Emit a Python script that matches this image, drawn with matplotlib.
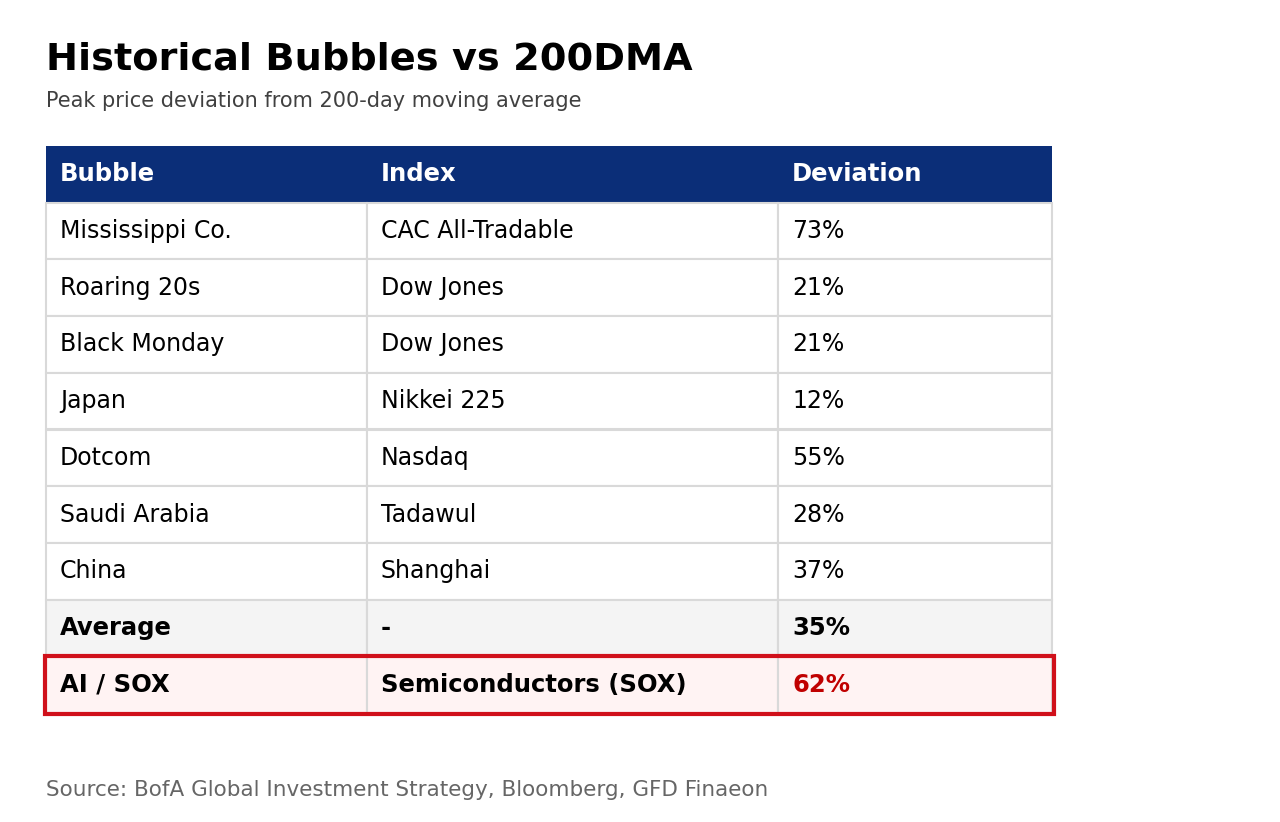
import matplotlib
matplotlib.use("Agg")
import matplotlib.pyplot as plt
from matplotlib.patches import Rectangle

plt.rcParams["font.family"] = ["DejaVu Sans"]

# data
HEADERS = ["Bubble", "Index", "Deviation"]
BUBBLES = ["Mississippi Co.", "Roaring 20s", "Black Monday", "Japan", "Dotcom",
           "Saudi Arabia", "China"]
INDICES = ["CAC All-Tradable", "Dow Jones", "Dow Jones", "Nikkei 225", "Nasdaq",
           "Tadawul", "Shanghai"]
DEVIATIONS = [73, 21, 21, 12, 55, 28, 37]
AVERAGE_ROW = ["Average", "-", "35%"]
HIGHLIGHT_ROW = ["AI / SOX", "Semiconductors (SOX)", "62%"]

NAVY = "#0b2e78"
GRID = "#d9d9d9"
RED = "#d0101a"
RED_TEXT = "#c00000"

W, H = 1280, 822
fig = plt.figure(figsize=(W / 100, H / 100), dpi=100)
ax = fig.add_axes([0, 0, 1, 1])
ax.set_xlim(0, W)
ax.set_ylim(H, 0)
ax.axis("off")

# layout in pixels
x0 = 46
col_w = [321, 411, 274]
col_x = [x0, x0 + col_w[0], x0 + col_w[0] + col_w[1]]
tbl_w = sum(col_w)
y0 = 146
row_h = 56.7
pad = 14
CELL_FS = 17
BOLD_FS = 17.5

fig.text(x0 / W, 1 - 59 / H, "Historical Bubbles vs 200DMA", fontsize=27.5,
         fontweight="bold", va="center", ha="left", color="black")
fig.text(x0 / W, 1 - 101 / H, "Peak price deviation from 200-day moving average",
         fontsize=15, va="center", ha="left", color="#404040")

# header
ax.add_patch(Rectangle((x0, y0), tbl_w, row_h, facecolor=NAVY, edgecolor="none"))
for j, h in enumerate(HEADERS):
    ax.text(col_x[j] + pad, y0 + row_h / 2, h, color="white", fontsize=BOLD_FS,
            fontweight="bold", va="center", ha="left")

rows = [[b, i, f"{d}%"] for b, i, d in zip(BUBBLES, INDICES, DEVIATIONS)]
rows.append(AVERAGE_ROW)
rows.append(HIGHLIGHT_ROW)

n = len(rows)
for r, row in enumerate(rows):
    top = y0 + row_h * (r + 1)
    is_avg = r == n - 2
    is_hl = r == n - 1
    face = "#f4f4f4" if is_avg else ("#fff3f3" if is_hl else "white")
    for j, val in enumerate(row):
        ax.add_patch(Rectangle((col_x[j], top), col_w[j], row_h, facecolor=face,
                               edgecolor=GRID, linewidth=1.5))
        color = RED_TEXT if (is_hl and j == 2) else "black"
        bold = is_avg or is_hl
        ax.text(col_x[j] + pad, top + row_h / 2, val,
                fontsize=BOLD_FS if bold else CELL_FS, color=color,
                fontweight="bold" if bold else "normal", va="center", ha="left")
    if is_hl:
        ax.add_patch(Rectangle((x0 - 1.5, top), tbl_w + 3, row_h + 1, facecolor="none",
                               edgecolor=RED, linewidth=3, zorder=5))

fig.text(x0 / W, 1 - 790 / H, "Source: BofA Global Investment Strategy, Bloomberg, GFD Finaeon",
         fontsize=15.5, va="center", ha="left", color="#666666")

fig.savefig("out.png", dpi=100)
